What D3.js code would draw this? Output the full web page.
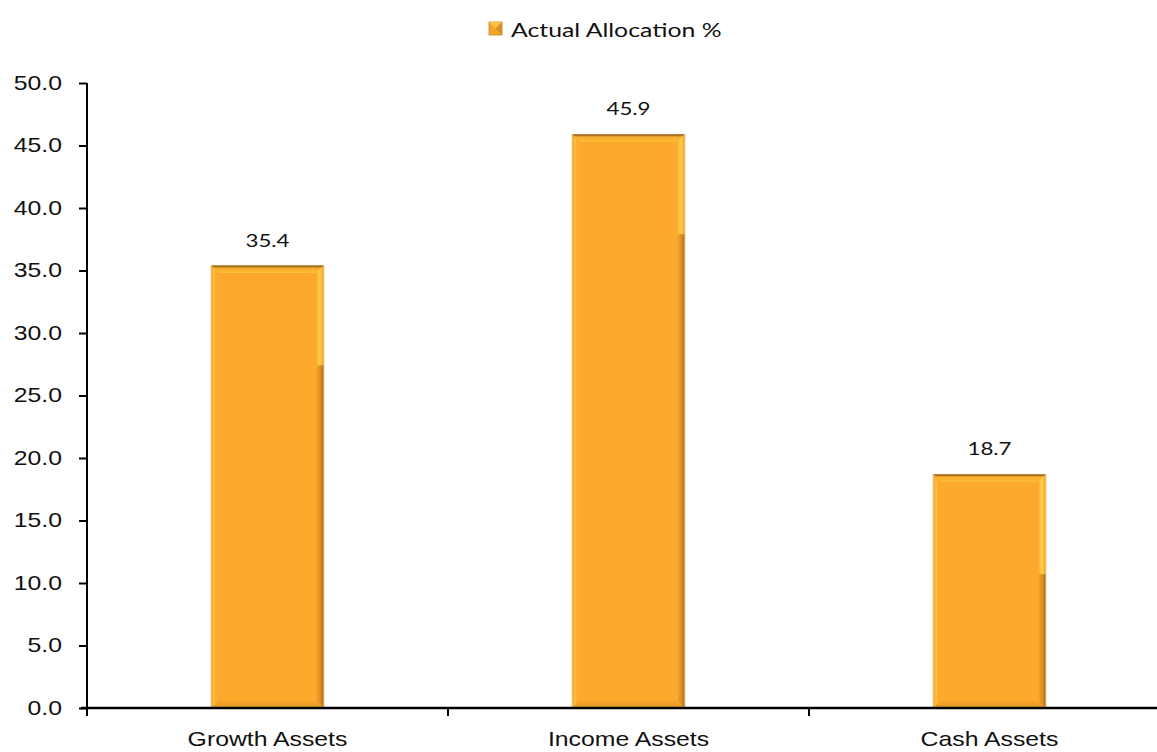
<!DOCTYPE html>
<html>
<head>
<meta charset="utf-8">
<script src="https://cdn.jsdelivr.net/npm/d3@7"></script>
<style>
  html, body { margin: 0; padding: 0; background: #fff; }
  svg { display: block; font-family: Lato, "Open Sans", sans-serif; }
</style>
</head>
<body>
<svg id="chart" width="1157" height="752"></svg>
<script>
// Asset allocation data
const categories = ["Growth Assets", "Income Assets", "Cash Assets"];
const allocation = [35.4, 45.9, 18.7];
const yTicks = [0, 5, 10, 15, 20, 25, 30, 35, 40, 45, 50];
const seriesName = "Actual Allocation %";

const svg = d3.select("#chart");
const W = 1157, H = 752;
const plot = { left: 87, top: 83, bottom: 708, right: 1170 };
const SX = 1.24;          // horizontal text stretch
const FS = 20;            // base font size

const x = d3.scaleBand()
  .domain(categories)
  .range([plot.left, plot.right])
  .paddingInner(0.69)
  .paddingOuter(0.345);

const y = d3.scaleLinear().domain([0, 50]).range([plot.bottom, plot.top]);

// place a text at (tx, ty) with a horizontal stretch
function stretched(sel, tx, ty) {
  return sel.attr("x", 0).attr("y", 0).attr("transform", `translate(${tx},${ty}) scale(${SX},1)`);
}

// gradients for bevelled bars
const defs = svg.append("defs");
const gTop = defs.append("linearGradient").attr("id", "bevTop").attr("x1", 0).attr("y1", 0).attr("x2", 0).attr("y2", 1);
gTop.append("stop").attr("offset", "0%").attr("stop-color", "#f0a22a");
gTop.append("stop").attr("offset", "100%").attr("stop-color", "#ffb935");
const gRight = defs.append("linearGradient").attr("id", "bevRight").attr("x1", 0).attr("y1", 0).attr("x2", 1).attr("y2", 0);
gRight.append("stop").attr("offset", "0%").attr("stop-color", "#fdb22f");
gRight.append("stop").attr("offset", "50%").attr("stop-color", "#ffd24a");
gRight.append("stop").attr("offset", "100%").attr("stop-color", "#f3a52a");
const gRightDark = defs.append("linearGradient").attr("id", "bevRightDark").attr("x1", 0).attr("y1", 0).attr("x2", 1).attr("y2", 0);
gRightDark.append("stop").attr("offset", "0%").attr("stop-color", "#f5a42b");
gRightDark.append("stop").attr("offset", "60%").attr("stop-color", "#d98d22");
gRightDark.append("stop").attr("offset", "100%").attr("stop-color", "#a8711f");
const gBottom = defs.append("linearGradient").attr("id", "bevBottom").attr("x1", 0).attr("y1", 0).attr("x2", 0).attr("y2", 1);
gBottom.append("stop").attr("offset", "0%").attr("stop-color", "#f7a42a");
gBottom.append("stop").attr("offset", "100%").attr("stop-color", "#e59a26");

// y axis
const yAxis = svg.append("g")
  .attr("transform", `translate(${plot.left},0)`)
  .call(d3.axisLeft(y).tickValues(yTicks).tickFormat(d3.format(".1f")).tickSize(8).tickPadding(17));
yAxis.select(".domain").attr("stroke", "#000").attr("stroke-width", 2).attr("d", `M0,${plot.top}V${plot.bottom + 6}`);
yAxis.selectAll(".tick line").attr("stroke", "#000").attr("stroke-width", 2);
yAxis.selectAll(".tick text").attr("fill", "#111").style("font-size", FS + "px")
  .attr("x", 0).attr("transform", `translate(-25,0) scale(${SX},1)`);

// bars
const bars = svg.append("g");
const bev = 7;
categories.forEach((c, i) => {
  const v = allocation[i];
  const x0 = x(c), bw = x.bandwidth();
  const y0 = y(v), y1 = y(0);
  const g = bars.append("g");
  // soft outline shadow
  g.append("rect").attr("x", x0 - 1).attr("y", y0).attr("width", bw + 2).attr("height", y1 - y0 + 1)
    .attr("fill", "#d9b98a").attr("opacity", 0.6);
  g.append("rect").attr("x", x0).attr("y", y0).attr("width", bw).attr("height", y1 - y0).attr("fill", "#fca92c");
  // top bevel
  g.append("path").attr("d", `M${x0},${y0}H${x0 + bw}L${x0 + bw - bev},${y0 + bev}H${x0 + bev}Z`).attr("fill", "url(#bevTop)");
  g.append("line").attr("x1", x0 + bev).attr("x2", x0 + bw - bev).attr("y1", y0 + bev).attr("y2", y0 + bev)
    .attr("stroke", "#ffc23f").attr("stroke-width", 1.2);
  g.append("line").attr("x1", x0).attr("x2", x0 + bw).attr("y1", y0 + 1).attr("y2", y0 + 1)
    .attr("stroke", "#a6722a").attr("stroke-width", 2);
  // left bevel
  g.append("path").attr("d", `M${x0},${y0}L${x0 + bev},${y0 + bev}V${y1 - bev}L${x0},${y1}Z`).attr("fill", "#fbad33");
  g.append("line").attr("x1", x0 + 2.5).attr("x2", x0 + 2.5).attr("y1", y0 + 3).attr("y2", y1 - 3)
    .attr("stroke", "#ffc845").attr("stroke-width", 1.2);
  // right bevel: light upper section, darker lower section
  const split = Math.min(y1 - bev, y0 + 100);
  g.append("path").attr("d", `M${x0 + bw},${y0}L${x0 + bw - bev},${y0 + bev}V${split}H${x0 + bw}Z`).attr("fill", "url(#bevRight)");
  g.append("path").attr("d", `M${x0 + bw},${split}H${x0 + bw - bev}V${y1 - bev}L${x0 + bw},${y1}Z`).attr("fill", "url(#bevRightDark)");
  // bottom bevel
  g.append("path").attr("d", `M${x0},${y1}L${x0 + bev},${y1 - bev}H${x0 + bw - bev}L${x0 + bw},${y1}Z`).attr("fill", "url(#bevBottom)");
  // value label
  stretched(svg.append("text"), x0 + bw / 2, y0 - 19)
    .attr("text-anchor", "middle").attr("fill", "#111").style("font-size", "18px")
    .text(d3.format(".1f")(v));
});

// x axis
const xAxis = svg.append("g")
  .attr("transform", `translate(0,${plot.bottom})`)
  .call(d3.axisBottom(x).tickSize(0).tickPadding(0));
xAxis.select(".domain").attr("stroke", "#000").attr("stroke-width", 2.5).attr("d", `M${plot.left - 6},0H${W}`);
xAxis.selectAll(".tick text").attr("fill", "#111").style("font-size", FS + "px")
  .attr("dy", null).attr("y", 0).attr("transform", `translate(0,38) scale(${SX},1)`);
// category separators
const step = x.step();
xAxis.selectAll(".sep").data(d3.range(categories.length)).join("line")
  .attr("class", "sep")
  .attr("x1", i => plot.left + i * step).attr("x2", i => plot.left + i * step)
  .attr("y1", 0).attr("y2", 8).attr("stroke", "#000").attr("stroke-width", 2);

// legend
const legend = svg.append("g").attr("transform", "translate(489,22)");
legend.append("rect").attr("width", 13).attr("height", 13).attr("fill", "#f5a52a").attr("stroke", "#c8862a").attr("stroke-width", 0.8);
legend.append("path").attr("d", "M0,0H13L6.5,6.5Z").attr("fill", "#ffc23f");
legend.append("path").attr("d", "M13,0V13L6.5,6.5Z").attr("fill", "#d88d24");
stretched(legend.append("text"), 22, 14.5).attr("fill", "#111").style("font-size", FS + "px").text(seriesName);
</script>
</body>
</html>
